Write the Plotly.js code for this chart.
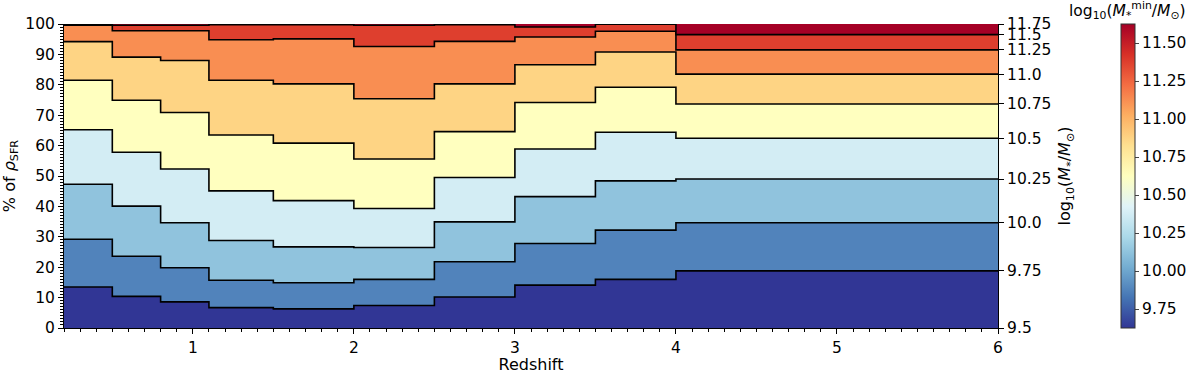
<!DOCTYPE html>
<html>
<head>
<meta charset="utf-8">
<script src="https://cdn.plot.ly/plotly-3.0.1.min.js"></script>
<style>html,body{margin:0;padding:0;background:#fff;}#chart{width:1200px;height:374px;}</style>
</head>
<body>
<div id="chart"></div>
<script>
// Redshift bin edges
const zEdges = [0.2, 0.5, 0.8, 1.1, 1.5, 2.0, 2.5, 3.0, 3.5, 4.0, 6.0];
// Stellar-mass bin edges (log10 M*/Msun)
const massEdges = [9.5, 9.75, 10.0, 10.25, 10.5, 10.75, 11.0, 11.25, 11.5, 11.75];
const massLabels = ["9.5", "9.75", "10.0", "10.25", "10.5", "10.75", "11.0", "11.25", "11.5", "11.75"];
// Cumulative % of rho_SFR below each mass edge, per redshift bin
const cum975  = [13.5, 10.4, 8.6, 6.7, 6.3, 7.4, 10.2, 14.1, 16.0, 18.8];
const cum1000 = [29.2, 23.6, 19.8, 15.7, 14.9, 16.0, 21.8, 27.8, 32.2, 34.6];
const cum1025 = [47.3, 40.1, 34.6, 28.8, 26.7, 26.5, 34.9, 43.2, 48.4, 49.0];
const cum1050 = [65.2, 57.8, 52.3, 45.1, 41.9, 39.3, 49.5, 58.9, 64.4, 62.4];
const cum1075 = [81.5, 74.9, 70.9, 63.5, 60.8, 55.6, 64.6, 74.2, 79.2, 73.7];
const cum1100 = [94.2, 89.1, 88.0, 81.5, 80.3, 75.4, 80.3, 86.6, 90.8, 83.5];
const cum1125 = [99.6, 97.8, 97.8, 94.8, 95.1, 92.6, 94.3, 95.7, 97.6, 91.5];
const cum1150 = [99.9, 99.6, 99.6, 99.8, 99.8, 99.6, 99.8, 99.0, 99.9, 96.5];
const cum1175 = [100, 100, 100, 100, 100, 100, 100, 100, 100, 100];
const cbTicks = [9.75, 10.0, 10.25, 10.5, 10.75, 11.0, 11.25, 11.5];

const boundaries = [cum975, cum1000, cum1025, cum1050, cum1075, cum1100, cum1125, cum1150, cum1175];

// RdYlBu reversed
const rdylbu = [[165,0,38],[215,48,39],[244,109,67],[253,174,97],[254,224,144],[255,255,191],[224,243,248],[171,217,233],[116,173,209],[69,117,180],[49,54,149]];
const scaleR = rdylbu.slice().reverse();
const colorscale = scaleR.map((c, i) => [i / (scaleR.length - 1), `rgb(${c[0]},${c[1]},${c[2]})`]);
function colorAt(t) {
  t = Math.max(0, Math.min(1, t));
  const p = t * (scaleR.length - 1);
  const i = Math.min(Math.floor(p), scaleR.length - 2);
  const f = p - i;
  const a = scaleR[i], b = scaleR[i + 1];
  return `rgb(${Math.round(a[0] + (b[0] - a[0]) * f)},${Math.round(a[1] + (b[1] - a[1]) * f)},${Math.round(a[2] + (b[2] - a[2]) * f)})`;
}
const centers = massEdges.slice(0, -1).map((m, i) => (m + massEdges[i + 1]) / 2);
const cmin = centers[0], cmax = centers[centers.length - 1];

const traces = boundaries.map((arr, i) => {
  const y = arr.concat([arr[arr.length - 1]]);
  return {
    type: 'scatter', mode: 'lines', x: zEdges, y: y,
    line: {shape: 'hv', color: '#000', width: 1.6},
    fill: i === 0 ? 'tozeroy' : 'tonexty',
    fillcolor: colorAt((centers[i] - cmin) / (cmax - cmin)),
    hoverinfo: 'skip', showlegend: false
  };
});
// top boundary drawn without line
traces[traces.length - 1].line.width = 0;

// colorbar carrier
traces.push({
  type: 'scatter', mode: 'markers', x: [-10, -10], y: [-10, -10],
  marker: {color: [cmin, cmax], cmin: cmin, cmax: cmax, colorscale: colorscale, size: 1, showscale: true,
    colorbar: {x: 1.132, xanchor: 'left', xref: 'paper', y: 0, yanchor: 'bottom', len: 1, lenmode: 'fraction',
      thickness: 14, outlinewidth: 1, outlinecolor: '#333', ticks: 'outside', ticklen: 4, tickwidth: 1,
      tickvals: cbTicks, tickformat: '.2f', tickfont: {size: 15.5, color: '#000'}, xpad: 0, ypad: 0}},
  hoverinfo: 'skip', showlegend: false
});
// right axis carrier
const last = boundaries.map(a => a[a.length - 1]);
const rightVals = [0].concat(last);
traces.push({type: 'scatter', mode: 'markers', x: [-10], y: [-10], yaxis: 'y2', marker: {size: 1, opacity: 0}, hoverinfo: 'skip', showlegend: false});

const font = {family: 'DejaVu Sans, sans-serif', size: 15.5, color: '#000'};
const layout = {
  width: 1200, height: 374,
  margin: {l: 64, r: 198, t: 24, b: 46},
  paper_bgcolor: '#fff', plot_bgcolor: '#fff',
  font: font,
  showlegend: false,
  xaxis: {range: [0.2, 6], tickvals: [1, 2, 3, 4, 5, 6], ticks: 'outside', ticklen: 5, tickwidth: 1, tickcolor: '#000',
    showline: true, linecolor: '#000', linewidth: 1, showgrid: false, zeroline: false,
    minor: {dtick: 0.1, tick0: 0, ticks: 'outside', ticklen: 3, tickcolor: '#000', showgrid: false},
    title: {text: 'Redshift', font: {size: 16}, standoff: 0}},
  yaxis: {range: [0, 100], dtick: 10, ticks: 'outside', ticklen: 5, tickwidth: 1, tickcolor: '#000',
    showline: true, linecolor: '#000', linewidth: 1, showgrid: false, zeroline: false,
    minor: {dtick: 1, ticks: 'outside', ticklen: 3, tickcolor: '#000', showgrid: false},
    title: {text: '% of <i>ρ</i><sub>SFR</sub>', font: {size: 16}, standoff: 8}},
  yaxis2: {overlaying: 'y', side: 'right', range: [0, 100], tickvals: rightVals, ticktext: massLabels,
    ticks: 'outside', ticklen: 5, tickwidth: 1, tickcolor: '#000', showline: true, linecolor: '#000', linewidth: 1,
    showgrid: false, zeroline: false,
    title: {text: 'log<sub>10</sub>(<i>M</i><sub>*</sub>/<i>M</i><sub>⊙</sub>)', font: {size: 16}, standoff: 8}},
  annotations: [{
    text: 'log<sub>10</sub>(<i>M</i><sub>*</sub><sup>min</sup>/<i>M</i><sub>⊙</sub>)',
    xref: 'paper', yref: 'paper', x: 1.139, y: 1.0, xanchor: 'center', yanchor: 'bottom', yshift: 0,
    showarrow: false, font: {size: 15.5, color: '#000'}
  }]
};
Plotly.newPlot('chart', traces, layout, {staticPlot: true});
</script>
</body>
</html>
